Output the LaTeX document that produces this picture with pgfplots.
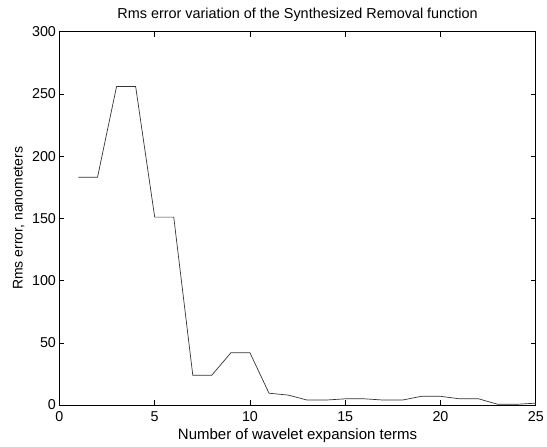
\documentclass[border=0pt]{standalone}
\usepackage{pgfplots}
\pgfplotsset{compat=1.18}
\usepackage{fontspec}
\setmainfont{Liberation Sans}
\begin{document}
\begin{tikzpicture}
\begin{axis}[
  scale only axis,
  width=481bp, height=377bp,
  xmin=0, xmax=25, ymin=0, ymax=300,
  xtick={0,5,10,15,20,25},
  ytick={0,50,100,150,200,250,300},
  tick align=inside,
  major tick length=5bp,
  axis line style={line width=0.8pt},
  tick style={line width=0.6pt, black},
  /pgf/number format/assume math mode=true,
  tick label style={font=\fontsize{14.5}{16}\selectfont},
  xticklabel style={yshift=-3bp},
  title={Rms error variation of the Synthesized Removal function},
  title style={font=\fontsize{14.6}{16}\selectfont, at={(axis description cs:0.5,1)}, anchor=south, yshift=1bp},
  xlabel={Number of wavelet expansion terms},
  ylabel={Rms error, nanometers},
  xlabel style={font=\fontsize{15.2}{17}\selectfont, at={(axis description cs:0.5,0)}, anchor=north, yshift=-20.5bp},
  ylabel style={font=\fontsize{14.2}{16}\selectfont, at={([xshift=-41bp]axis description cs:0,0.5)}, anchor=center},
]
\addplot[black!80, line width=0.7pt] coordinates {
(1,183) (2,183) (3,256) (4,256) (5,151) (6,151) (7,24) (8,24) (9,42) (10,42)
(11,9.5) (12,8) (13,4) (14,4) (15,5) (16,5) (17,4) (18,4) (19,7) (20,7)
(21,5) (22,5) (23,0.6) (24,0.6) (25,1.5)
};
\path (rel axis cs:0,0) ++(-60bp,-40bp) coordinate (bl);
\path (rel axis cs:1,1) ++(6bp,32bp) coordinate (tr);
\end{axis}
\path (bl) rectangle (tr);
\end{tikzpicture}
\end{document}
